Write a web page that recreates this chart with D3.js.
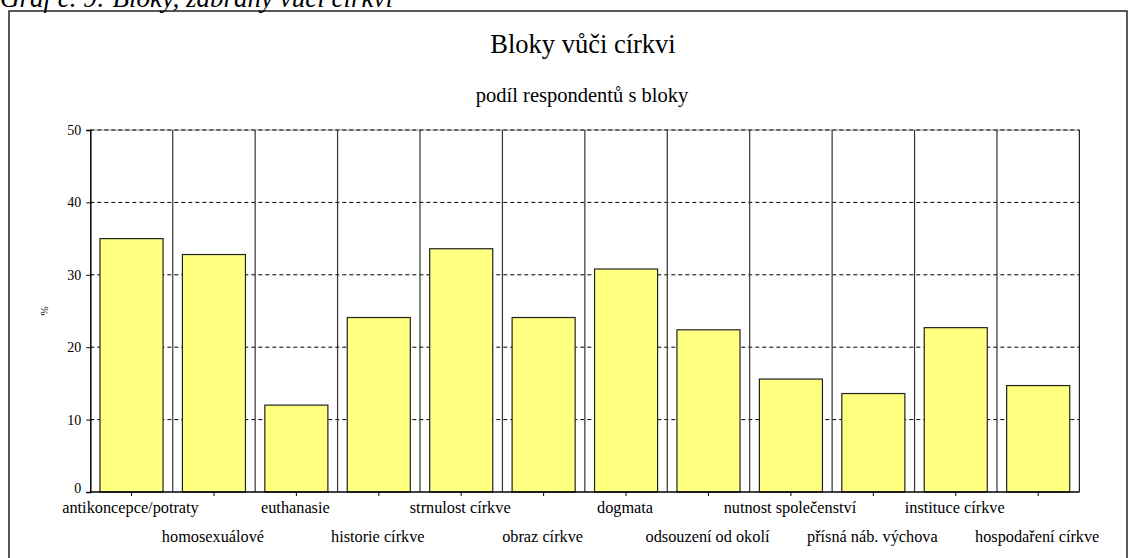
<!DOCTYPE html>
<html>
<head>
<meta charset="utf-8">
<script src="https://cdn.jsdelivr.net/npm/d3@7"></script>
<style>
  html, body { margin: 0; padding: 0; background: #fff; }
  svg { display: block; }
  svg text { font-family: "Liberation Serif", "Times New Roman", serif; }
</style>
</head>
<body>
<svg id="chart" width="1132" height="558"></svg>
<script>
const categories = [
  "antikoncepce/potraty", "homosexuálové", "euthanasie", "historie církve",
  "strnulost církve", "obraz církve", "dogmata", "odsouzení od okolí",
  "nutnost společenství", "přísná náb. výchova", "instituce církve", "hospodaření církve"
];
const values = [35.0, 32.8, 12.0, 24.1, 33.6, 24.1, 30.8, 22.4, 15.6, 13.6, 22.7, 14.7];
const yTicks = [0, 10, 20, 30, 40, 50];
const captionText = "Graf č. 9: Bloky, zábrany vůči církvi";
const titleText = "Bloky vůči církvi";
const subtitleText = "podíl respondentů s bloky";
const yLabel = "%";

const FONT = "Liberation Serif, Times New Roman, serif";
const svg = d3.select("#chart");
const plot = { left: 90.3, right: 1079.4, top: 130, bottom: 492 };

// caption (cropped at top, as in the source)
svg.append("text").attr("x", 0).attr("y", 6.5)
  .attr("font-family", FONT)
  .attr("font-size", 27).attr("font-style", "italic").attr("fill", "#000")
  .text(captionText);

// outer frame
svg.append("rect").attr("x", 9).attr("y", 11).attr("width", 1118).attr("height", 560)
  .attr("fill", "none").attr("stroke", "#000").attr("stroke-width", 1.3);

// titles
svg.append("text").attr("x", 583).attr("y", 53).attr("text-anchor", "middle")
  .attr("font-family", FONT).attr("font-size", 26.5).text(titleText);
svg.append("text").attr("x", 582).attr("y", 101.5).attr("text-anchor", "middle")
  .attr("font-family", FONT).attr("font-size", 20.5).text(subtitleText);

const x = d3.scaleBand().domain(categories).range([plot.left, plot.right])
  .paddingInner(0.235).paddingOuter(0.1175);
const y = d3.scaleLinear().domain([0, 50]).range([plot.bottom, plot.top]);

// plot top/right borders
svg.append("line").attr("x1", plot.left).attr("x2", plot.right)
  .attr("y1", plot.top).attr("y2", plot.top).attr("stroke", "#999").attr("stroke-width", 1);
svg.append("line").attr("x1", plot.right).attr("x2", plot.right)
  .attr("y1", plot.top).attr("y2", plot.bottom).attr("stroke", "#222").attr("stroke-width", 1.2);

// dashed gridlines
svg.append("g").selectAll("line").data(yTicks.filter(d => d > 0)).join("line")
  .attr("x1", plot.left).attr("x2", plot.right)
  .attr("y1", d => y(d)).attr("y2", d => y(d))
  .attr("stroke", "#000").attr("stroke-width", 1).attr("stroke-dasharray", "4,3");

// vertical separators between categories
const step = x.step();
const seps = categories.slice(1).map(c => x(c) - x.paddingInner() * step / 2);
svg.append("g").selectAll("line").data(seps).join("line")
  .attr("x1", d => d).attr("x2", d => d)
  .attr("y1", plot.top).attr("y2", plot.bottom)
  .attr("stroke", "#333").attr("stroke-width", 1.2);

// bars
svg.append("g").selectAll("rect").data(values).join("rect")
  .attr("x", (d, i) => x(categories[i]))
  .attr("y", d => y(d))
  .attr("width", x.bandwidth())
  .attr("height", d => y(0) - y(d))
  .attr("fill", "#ffff80").attr("stroke", "#222").attr("stroke-width", 1.2);

// y axis
const yAxis = svg.append("g").attr("transform", `translate(${plot.left},0)`)
  .call(d3.axisLeft(y).tickValues(yTicks).tickSize(4).tickPadding(5));
yAxis.attr("font-family", FONT);
yAxis.select(".domain").attr("stroke", "#000").attr("stroke-width", 1.5);
yAxis.selectAll(".tick line").attr("stroke", "#000").attr("x2", 1.5).attr("x1", -4);
yAxis.selectAll(".tick text").attr("font-family", FONT)
  .attr("font-size", 14).attr("fill", "#000");
yAxis.selectAll(".tick").filter(d => d === 0).select("text").attr("dy", "0.0em");

// x axis
const xAxis = svg.append("g").attr("transform", `translate(0,${plot.bottom})`)
  .call(d3.axisBottom(x).tickSize(4).tickFormat(""));
xAxis.select(".domain").attr("stroke", "#000").attr("stroke-width", 1.5)
  .attr("d", `M${plot.left},0H${plot.right}`);
xAxis.selectAll(".tick line").attr("stroke", "#000");

// category labels, staggered
svg.append("g").selectAll("text").data(categories).join("text")
  .attr("x", d => x(d) + x.bandwidth() / 2 - 1)
  .attr("y", (d, i) => i % 2 === 0 ? 513 : 541.5)
  .attr("text-anchor", "middle").attr("font-family", FONT)
  .attr("font-size", 16.3).attr("fill", "#000")
  .text(d => d);

// y label
svg.append("text").attr("transform", "translate(48,311) rotate(-90)")
  .attr("text-anchor", "middle").attr("font-family", FONT)
  .attr("font-size", 11).text(yLabel);
</script>
</body>
</html>
